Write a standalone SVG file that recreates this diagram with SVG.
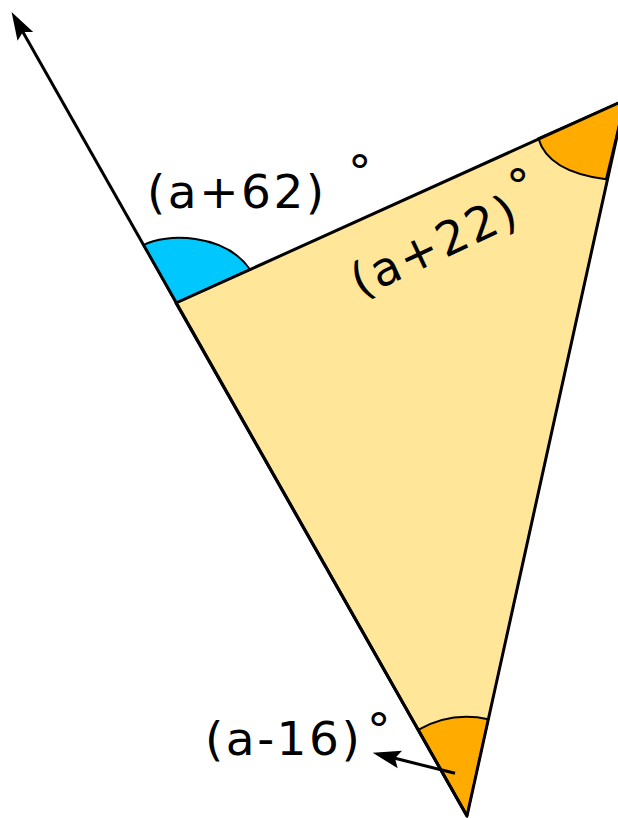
<svg xmlns="http://www.w3.org/2000/svg" width="618" height="818" viewBox="0 0 618 818">
<style>
.lbl{font-family:"DejaVu Sans","Liberation Sans",sans-serif;font-size:47px;fill:#000;letter-spacing:2.5px}
.edge{fill:none;stroke:#000;stroke-width:3;stroke-linejoin:round}
.arc{stroke:#000;stroke-width:2}
.arr{fill:none;stroke:#000;stroke-width:3}
</style>
<defs>
<marker id="ah" markerUnits="userSpaceOnUse" markerWidth="40" markerHeight="30" refX="0" refY="0" viewBox="-10 -15 40 30" orient="auto" overflow="visible">
<path d="M23,0 L-5,-9 L0,0 L-5,9 Z" fill="#000"/>
</marker>
</defs>
<g id="triangle">
<polygon points="176,303 625,100 467,816" fill="#ffe699"/>
</g>
<g id="angle-top">
<path class="arc" d="M176,303 L143.5,245 C165,233 225,233 250,269.5 Z" fill="#00c8ff"/>
</g>
<g id="angle-right">
<path class="arc" d="M625,100 L538.3,138.3 Q548,172 606,179.3 Z" fill="#ffab00"/>
</g>
<g id="angle-bottom">
<path class="arc" d="M467,816 L418.2,729.9 A99,99 0 0 1 488.3,719.3 Z" fill="#ffab00"/>
</g>
<g id="triangle-edges">
<polygon class="edge" points="176,303 625,100 467,816"/>
</g>
<g id="connectors">
<line class="arr" x1="467" y1="816" x2="22.9" y2="32" marker-end="url(#ah)"/>
<line class="arr" x1="455" y1="773.3" x2="395" y2="758.3" marker-end="url(#ah)"/>
</g>
<g id="label-top">
<text class="lbl" x="147" y="208">(a+62)<tspan x="348" y="188">°</tspan></text>
</g>
<g id="label-right">
<text class="lbl" transform="rotate(-25 360 298)" x="360" y="298">(a+22)</text>
<text class="lbl" x="506" y="202">°</text>
</g>
<g id="label-bottom">
<text class="lbl" x="205" y="755">(a-16)<tspan x="367" y="746">°</tspan></text>
</g>
</svg>
